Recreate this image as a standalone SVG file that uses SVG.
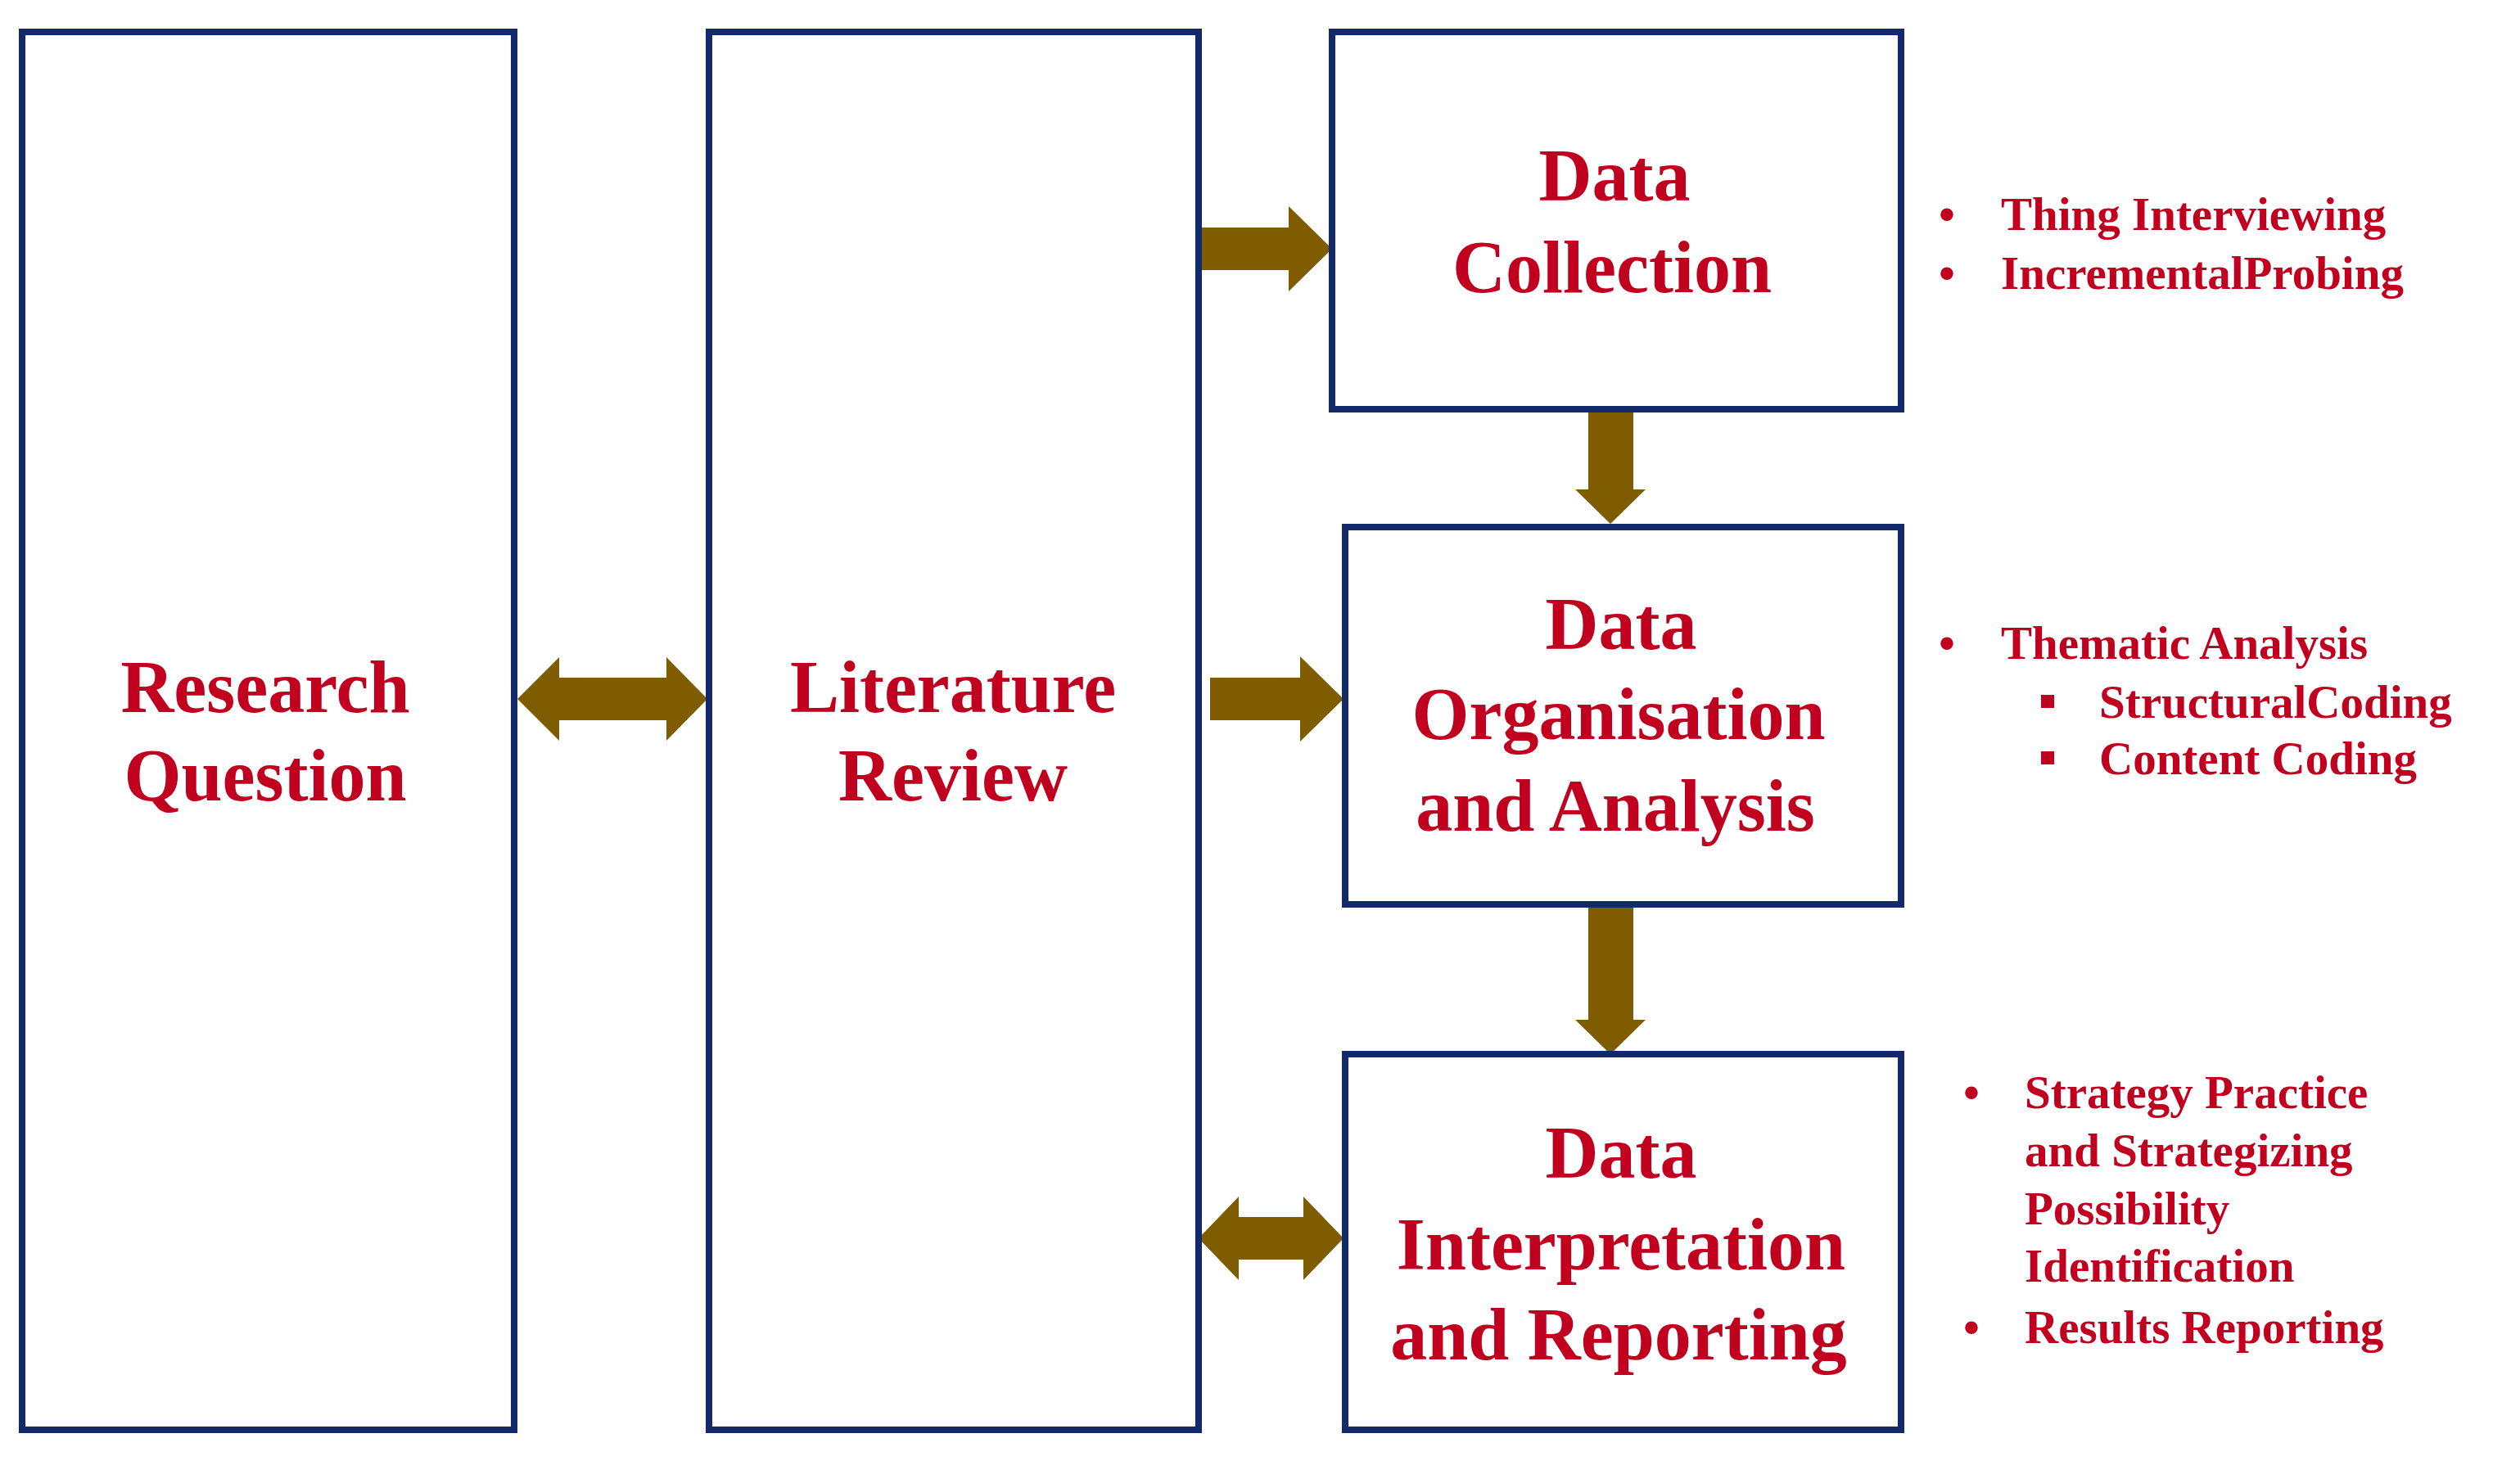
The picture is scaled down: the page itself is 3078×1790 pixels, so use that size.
<svg xmlns="http://www.w3.org/2000/svg" width="3078" height="1790" viewBox="0 0 3078 1790">
<style>
.box{fill:#fff;stroke:#12296B;stroke-width:8}
.arr{fill:#7F5C00}
.big{font-family:"Liberation Serif",serif;font-weight:bold;font-size:90px;fill:#C0001E;text-anchor:middle}
.sm{font-family:"Liberation Serif",serif;font-weight:bold;font-size:57px;fill:#C0001E}
</style>
<rect width="3078" height="1790" fill="#fff"/>
<g id="connectors">
<polygon class="arr" points="632,854 683,803 683,828 814,828 814,803 864,854 814,905 814,880 683,880 683,905"/>
<polygon class="arr" points="1464,278 1574,278 1574,252 1627,304 1574,356 1574,330 1464,330"/>
<polygon class="arr" points="1478,828 1588,828 1588,802 1641,854 1588,906 1588,880 1478,880"/>
<polygon class="arr" points="1464,1513 1513,1462 1513,1487 1592,1487 1592,1462 1641,1513 1592,1564 1592,1539 1513,1539 1513,1564"/>
<polygon class="arr" points="1940,502 1995,502 1995,598 2010,598 1967,640 1924,598 1940,598"/>
<polygon class="arr" points="1940,1107 1995,1107 1995,1246 2010,1246 1967,1288 1924,1246 1940,1246"/>
</g>
<g id="research-question"><rect class="box" x="27" y="39" width="601" height="1708"/>
<text class="big" x="324" y="870">Research</text><text class="big" x="324" y="978">Question</text></g>
<g id="literature-review"><rect class="box" x="866" y="39" width="598" height="1708"/>
<text class="big" x="1164" y="870">Literature</text><text class="big" x="1164" y="978">Review</text></g>
<g id="data-collection"><rect class="box" x="1627" y="39" width="695" height="461"/>
<text class="big" x="1972" y="245">Data</text><text class="big" x="1969" y="357">Collection</text></g>
<g id="data-organisation"><rect class="box" x="1643" y="644" width="679" height="461"/>
<text class="big" x="1980" y="793">Data</text><text class="big" x="1977" y="903">Organisation</text><text class="big" x="1973" y="1015">and Analysis</text></g>
<g id="data-interpretation"><rect class="box" x="1643" y="1288" width="679" height="459"/>
<text class="big" x="1980" y="1439">Data</text><text class="big" x="1980" y="1551">Interpretation</text><text class="big" x="1977" y="1661">and Reporting</text></g>
<g id="notes">
<text class="sm" x="2368" y="281">•</text><text class="sm" x="2444" y="281">Thing Interviewing</text>
<text class="sm" x="2368" y="353">•</text><text class="sm" x="2444" y="353">IncrementalProbing</text>
<text class="sm" x="2368" y="805">•</text><text class="sm" x="2444" y="805">Thematic Analysis</text>
<rect x="2493" y="849" width="16" height="16" fill="#C0001E"/><text class="sm" x="2564" y="877">StructuralCoding</text>
<rect x="2493" y="918" width="16" height="16" fill="#C0001E"/><text class="sm" x="2564" y="946">Content Coding</text>
<text class="sm" x="2398" y="1354">•</text><text class="sm" x="2473" y="1354">Strategy Practice</text>
<text class="sm" x="2473" y="1425">and Strategizing</text>
<text class="sm" x="2473" y="1496">Possibility</text>
<text class="sm" x="2473" y="1566">Identification</text>
<text class="sm" x="2398" y="1641">•</text><text class="sm" x="2473" y="1641">Results Reporting</text>
</g>
</svg>
